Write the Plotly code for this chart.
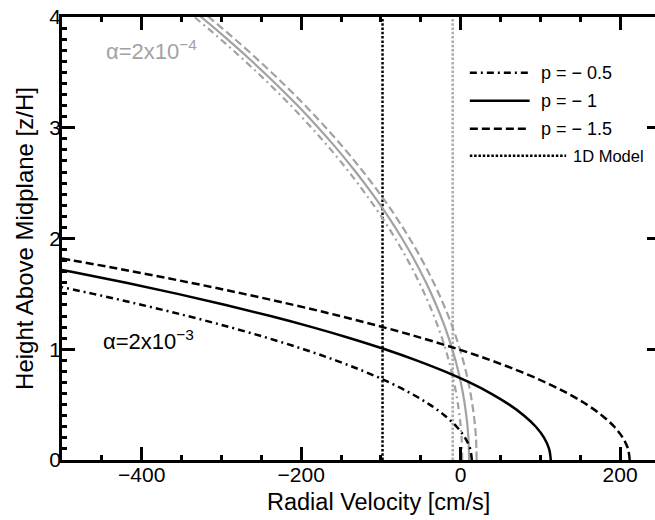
import plotly.graph_objects as go

# ---------------- data ----------------
# alpha = 2e-3 (black curves): height above midplane [z/H]
z_hi = [0.0, 0.1, 0.2, 0.3, 0.4, 0.5, 0.6, 0.7, 0.8, 0.9,
        1.0, 1.1, 1.2, 1.3, 1.4, 1.5, 1.6, 1.7, 1.8, 1.9]
# radial velocity [cm/s]
v_hi_p05 = [14.0, 11.9, 5.6, -5.0, -19.8, -38.8, -62.0, -89.4, -121.0, -156.9,
            -197.0, -241.3, -289.8, -342.6, -399.6, -460.8, -526.2, -595.8, -669.6, -747.7]
v_hi_p10 = [113.0, 110.9, 104.7, 94.3, 79.7, 61.0, 38.1, 11.1, -20.1, -55.5,
            -95.0, -138.7, -186.5, -238.5, -294.7, -355.0, -419.5, -488.1, -560.9, -637.9]
v_hi_p15 = [212.0, 209.9, 203.4, 192.7, 177.6, 158.3, 134.6, 106.7, 74.4, 37.9,
            -3.0, -48.2, -97.6, -151.4, -209.4, -271.8, -338.4, -409.4, -484.6, -564.2]

# alpha = 2e-4 (gray curves)
z_lo = [0.0, 0.2, 0.4, 0.6, 0.8, 1.0, 1.2, 1.4, 1.6, 1.8, 2.0,
        2.2, 2.4, 2.6, 2.8, 3.0, 3.2, 3.4, 3.6, 3.8, 4.0, 4.2]
v_lo_p05 = [2.0, 1.2, -1.4, -5.6, -11.4, -19.0, -28.2, -39.2, -51.8, -66.0, -82.0,
            -99.6, -119.0, -140.0, -162.6, -187.0, -213.0, -240.8, -270.2, -301.2, -334.0, -368.4]
v_lo_p10 = [10.5, 9.7, 7.1, 2.9, -2.9, -10.5, -19.7, -30.7, -43.3, -57.5, -73.5,
            -91.1, -110.5, -131.5, -154.1, -178.5, -204.5, -232.3, -261.7, -292.7, -325.5, -359.9]
v_lo_p15 = [20.0, 19.2, 16.6, 12.4, 6.6, -1.0, -10.2, -21.2, -33.8, -48.0, -64.0,
            -81.6, -101.0, -122.0, -144.6, -169.0, -195.0, -222.8, -252.2, -283.2, -316.0, -350.4]

# 1D model velocities (vertical lines)
v_1d_hi = -98.0
v_1d_lo = -10.0
z_span = [0.0, 4.0]

legend_labels = ["p = \u2212 0.5", "p = \u2212 1", "p = \u2212 1.5", "1D Model"]
x_range = [-500, 250]
y_range = [0, 4]
x_major = [-400, -200, 0, 200]
x_major_text = ["\u2212400", "\u2212200", "0", "200"]
x_minor = [-500, -450, -400, -350, -300, -250, -200, -150, -100, -50, 0, 50, 100, 150, 200, 250]
y_major = [0, 1, 2, 3, 4]
y_minor = [round(0.1 * i, 1) for i in range(41)]

# ---------------- styles ----------------
BLACK = "#000000"
GRAY = "#a2a2a2"
DOTGRAY = "#aaaaaa"
DASHDOT = "7px,4px,2px,4px"
DASH = "8px,4px"
DOT = "2.5px,1.8px"
FONT = "Liberation Sans, Arial, Helvetica, sans-serif"

fig = go.Figure()

# 1D model lines
fig.add_trace(go.Scatter(x=[v_1d_hi, v_1d_hi], y=z_span, mode="lines",
                         line=dict(color=BLACK, width=2.5, dash=DOT)))
fig.add_trace(go.Scatter(x=[v_1d_lo, v_1d_lo], y=z_span, mode="lines",
                         line=dict(color=DOTGRAY, width=2.5, dash=DOT)))

# gray curves (alpha = 2e-4)
for v, d in [(v_lo_p05, DASHDOT), (v_lo_p10, "solid"), (v_lo_p15, DASH)]:
    fig.add_trace(go.Scatter(x=v, y=z_lo, mode="lines", line_shape="spline",
                             line=dict(color=GRAY, width=2.2, dash=d)))

# black curves (alpha = 2e-3)
for v, d in [(v_hi_p05, DASHDOT), (v_hi_p10, "solid"), (v_hi_p15, DASH)]:
    fig.add_trace(go.Scatter(x=v, y=z_hi, mode="lines", line_shape="spline",
                             line=dict(color=BLACK, width=2.5, dash=d)))

# empty trace that creates the overlay subplot carrying the major ticks
fig.add_trace(go.Scatter(x=[], y=[], xaxis="x2", yaxis="y2", mode="lines", hoverinfo="skip"))

# ---------------- manual legend ----------------
leg_dash = [DASHDOT, "solid", DASH, DOT]
leg_y = [0.874, 0.811, 0.748, 0.687]
leg_x1 = [0.782, 0.782, 0.782, 0.843]
leg_tx = [0.797, 0.797, 0.797, 0.852]
leg_fs = [18, 18, 18, 16.5]
for lab, d, yy, x1, tx, fs in zip(legend_labels, leg_dash, leg_y, leg_x1, leg_tx, leg_fs):
    fig.add_shape(type="line", xref="paper", yref="paper", x0=0.682, x1=x1, y0=yy, y1=yy,
                  line=dict(color=BLACK, width=2.5, dash=d))
    fig.add_annotation(xref="paper", yref="paper", x=tx, y=yy, text=lab, showarrow=False,
                       xanchor="left", yanchor="middle", font=dict(size=fs, color=BLACK, family=FONT))

# alpha labels
fig.add_annotation(xref="paper", yref="paper", x=0.071, y=0.925,
                   text="\u03b1=2x10<sup>\u22124</sup>", showarrow=False,
                   xanchor="left", yanchor="middle", font=dict(size=22, color=GRAY, family=FONT))
fig.add_annotation(xref="paper", yref="paper", x=0.066, y=0.27,
                   text="\u03b1=2x10<sup>\u22123</sup>", showarrow=False,
                   xanchor="left", yanchor="middle", font=dict(size=22, color=BLACK, family=FONT))

# x axis title (sits slightly right of centre in the reference)
fig.add_annotation(xref="paper", yref="paper", x=0.53, y=-0.094,
                   text="Radial Velocity [cm/s]", showarrow=False,
                   xanchor="center", yanchor="middle", font=dict(size=23.5, color=BLACK, family=FONT))

# ---------------- axes ----------------
minor_common = dict(ticks="inside", tickwidth=2.5, tickcolor=BLACK, ticklen=5,
                    showline=True, linewidth=2.5, linecolor=BLACK, mirror="allticks",
                    showgrid=False, zeroline=False, showticklabels=False, tickmode="array")
major_common = dict(ticks="inside", tickwidth=2.5, tickcolor=BLACK, ticklen=13,
                    showline=False, mirror="allticks", showgrid=False, zeroline=False,
                    tickmode="array", tickfont=dict(size=21, family=FONT, color=BLACK))

fig.update_layout(
    xaxis=dict(range=x_range, tickvals=x_minor, **minor_common),
    yaxis=dict(range=y_range, tickvals=y_minor, **minor_common),
    xaxis2=dict(range=x_range, overlaying="x", anchor="y2", side="bottom",
                tickvals=x_major, ticktext=x_major_text, **major_common),
    yaxis2=dict(range=y_range, overlaying="y", anchor="x2", side="left",
                tickvals=y_major,
                title=dict(text="Height Above Midplane [z/H]",
                           font=dict(size=24, family=FONT, color=BLACK), standoff=8),
                **major_common),
    width=668, height=520, margin=dict(l=62, r=5, t=16, b=60),
    plot_bgcolor="white", paper_bgcolor="white", showlegend=False,
    font=dict(family=FONT, color=BLACK),
)

fig.write_html("out.html", config={"displayModeBar": False},
               post_script="document.body.style.margin='0';document.body.style.overflow='hidden';")
